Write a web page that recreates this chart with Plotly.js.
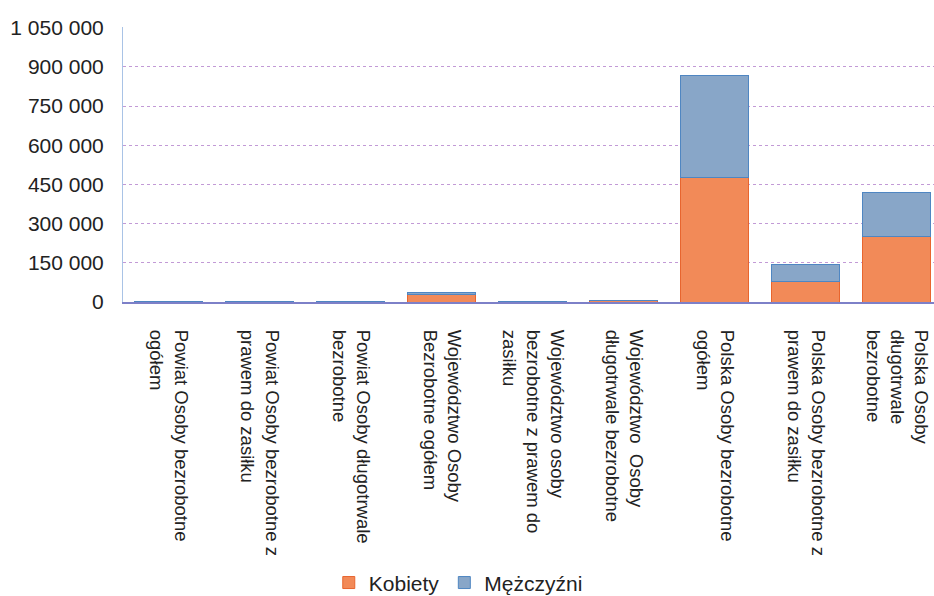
<!DOCTYPE html>
<html>
<head>
<meta charset="utf-8">
<script src="https://cdn.plot.ly/plotly-3.0.1.min.js"></script>
<style>
  html, body { margin: 0; padding: 0; background: #ffffff; }
  #chart { width: 934px; height: 596px; }
</style>
</head>
<body>
<div id="chart"></div>
<script>
const categories = [
  "Powiat Osoby bezrobotne<br>ogółem",
  "Powiat Osoby bezrobotne z<br>prawem do zasiłku",
  "Powiat Osoby długotrwale<br>bezrobotne",
  "Województwo Osoby<br>Bezrobotne ogółem",
  "Województwo osoby<br>bezrobotne z prawem do<br>zasiłku",
  "Województwo  Osoby<br>długotrwale bezrobotne",
  "Polska Osoby bezrobotne<br>ogółem",
  "Polska Osoby bezrobotne z<br>prawem do zasiłku",
  "Polska Osoby<br>długotrwale<br>bezrobotne"
];
const seriesNames = ["Kobiety", "Mężczyźni"];
const kobiety    = [600, 250, 350, 28000, 800, 5000, 478000, 78000, 252000];
const mezczyzni  = [450, 100, 200, 10000, 550, 2500, 388000, 67000, 168000];
const yTicks = [0, 150000, 300000, 450000, 600000, 750000, 900000, 1050000];

const xIdx = categories.map((_, i) => i);

const traces = [
  {
    type: "bar", name: seriesNames[0], x: xIdx, y: kobiety,
    marker: { color: "#F28A58", line: { color: "#E8652E", width: 1 } },
    width: 0.75
  },
  {
    type: "bar", name: seriesNames[1], x: xIdx, y: mezczyzni,
    marker: { color: "#88A6C8", line: { color: "#4F86C2", width: 1 } },
    width: 0.75
  }
];

const layout = {
  width: 934, height: 596,
  barmode: "stack",
  separators: ", ",
  paper_bgcolor: "#ffffff",
  plot_bgcolor: "#ffffff",
  font: { family: "Liberation Sans, Arial, sans-serif", color: "#222222" },
  margin: { l: 123, r: 0, t: 27, b: 294, pad: 0 },
  xaxis: {
    range: [-0.5, 8.41],
    tickmode: "array",
    tickvals: xIdx,
    ticktext: categories,
    tickangle: 90,
    ticks: "",
    ticklabelstandoff: 22,
    tickfont: { size: 18.5, color: "#222222" },
    showgrid: false,
    showline: true,
    linecolor: "#7d80c8",
    linewidth: 2,
    zeroline: false
  },
  yaxis: {
    range: [0, 1052500],
    tickmode: "array",
    tickvals: yTicks,
    tickformat: ",d",
    ticks: "",
    ticklabelstandoff: 14,
    tickfont: { size: 21, color: "#222222" },
    showgrid: true,
    gridcolor: "#c29ad6",
    griddash: "dot",
    gridwidth: 1,
    showline: true,
    linecolor: "#a9c3e6",
    linewidth: 1,
    zeroline: false
  },
  showlegend: true,
  legend: {
    orientation: "h",
    xref: "container", yref: "container",
    x: 0.352, xanchor: "left",
    y: 0.022, yanchor: "middle",
    font: { size: 21, color: "#222222" },
    traceorder: "normal",
    itemwidth: 30
  },
  hovermode: false
};

Plotly.newPlot("chart", traces, layout, { displayModeBar: false, staticPlot: true });
</script>
</body>
</html>
